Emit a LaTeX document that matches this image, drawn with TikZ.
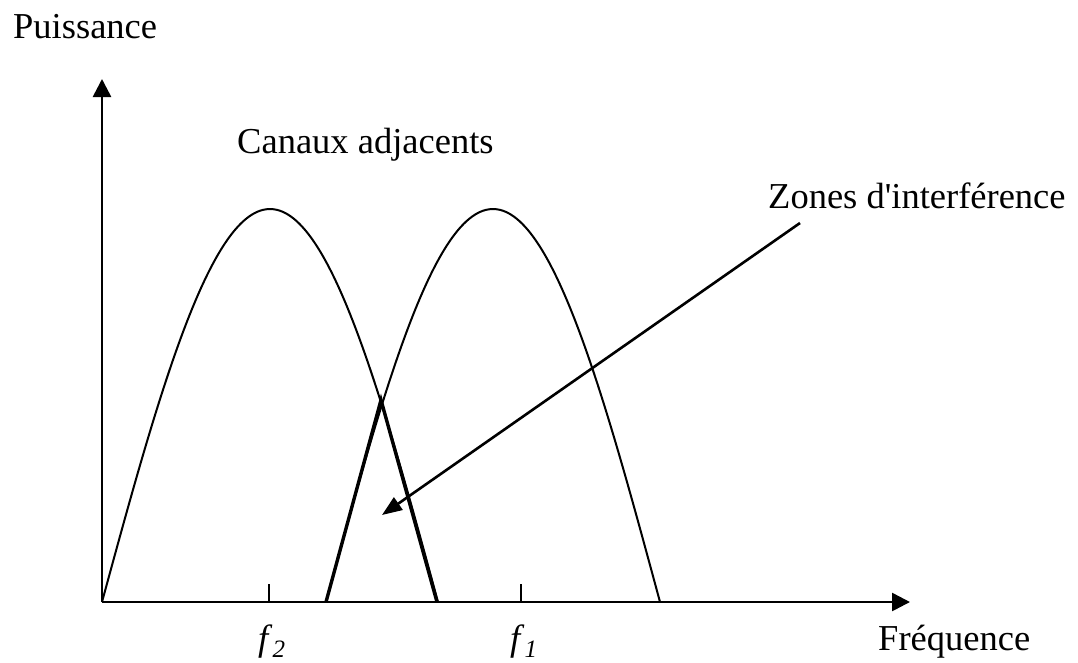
\documentclass[tikz,border=0pt]{standalone}
\usepackage{fontspec}
\setmainfont{Liberation Serif}
\usetikzlibrary{arrows.meta}

\newcommand{\freqlabel}[1]{\textit{f}\raisebox{-7pt}{\fontsize{25}{30}\selectfont\textit{#1}}}

\begin{document}
\begin{tikzpicture}[
x=1pt, y=-1pt,
txt/.style={anchor=base west, inner sep=0pt, font=\fontsize{36.5}{44}\selectfont},
axis/.style={line width=2.6pt, -{Triangle[length=18pt, width=18pt]}},
curve/.style={line width=2pt, samples=120, smooth},
zone/.style={line width=3.4pt, line join=miter},
pointer/.style={line width=2.6pt, -{Triangle[length=20pt, width=15pt]}}
]
\useasboundingbox (0,0) rectangle (1078,662);

% axes
\coordinate (O) at (102,602);
\coordinate (ytip) at (102,79);
\coordinate (xtip) at (910,602);
\draw[axis] (O) -- (ytip);
\draw[axis] (O) -- (xtip);

% ticks
\coordinate (t2) at (269,602);
\coordinate (t1) at (521,602);
\draw[line width=1.8pt] (t2) -- ++(0,-18);
\draw[line width=1.8pt] (t1) -- ++(0,-18);

% the two channels (half sine waves)
\draw[curve] plot[domain=102:438] (\x, {602-393*sin((\x-102)*0.535714)});
\draw[curve] plot[domain=326:660] (\x, {602-393*sin((\x-326)*0.538922)});

% interference zone
\coordinate (zl) at (326,602);
\coordinate (zt) at (381,400);
\coordinate (zr) at (437,602);
\draw[zone] (zl) -- (zt) -- (zr);

% labels
\node[txt] (puissance) at (13,38) {Puissance};
\node[txt] (canaux) at (237,153) {Canaux adjacents};
\node[txt] (zones) at (768,208) {Zones d\textquotesingle interférence};
\node[txt] (frequence) at (878,650) {Fréquence};
\node[txt] (f2) at (258,650) {\freqlabel{2}};
\node[txt] (f1) at (510,650) {\freqlabel{1}};

% pointer
\coordinate (pstart) at (800,223);
\coordinate (ptip) at (382,515);
\draw[pointer] (pstart) -- (ptip);
\end{tikzpicture}
\end{document}
